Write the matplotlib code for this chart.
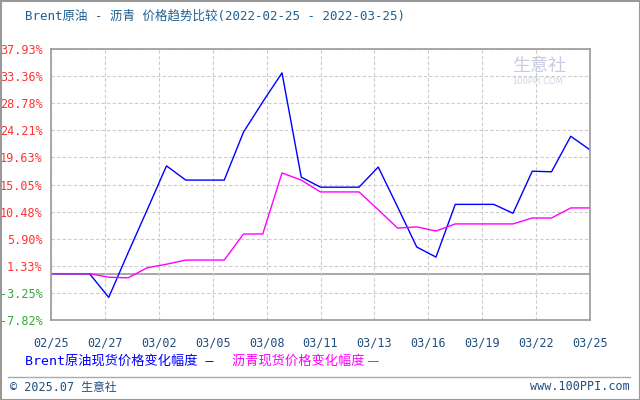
import matplotlib
matplotlib.use("Agg")
import matplotlib.pyplot as plt
import numpy as np

plt.rcParams['font.family'] = ['Noto Sans CJK SC', 'DejaVu Sans']

brent = [0, 0, 0, -4.0, 3.5, 10.8, 18.2, 15.8, 15.8, 15.8, 23.9, 29.0, 33.9, 16.3, 14.6,
         14.6, 14.6, 18.0, 11.3, 4.5, 2.8, 11.7, 11.7, 11.7, 10.2, 17.3, 17.2, 23.2, 20.9]
asphalt = [0, 0, 0, -0.6, -0.7, 1.0, 1.6, 2.3, 2.3, 2.3, 6.7, 6.7, 17.0, 15.8, 13.8,
           13.8, 13.8, 10.8, 7.7, 7.9, 7.2, 8.4, 8.4, 8.4, 8.4, 9.4, 9.4, 11.1, 11.1]
x_labels = ["02/25", "02/27", "03/02", "03/05", "03/08", "03/11",
            "03/13", "03/16", "03/19", "03/22", "03/25"]
y_ticks = [37.93, 33.36, 28.78, 24.21, 19.63, 15.05, 10.48, 5.90, 1.33, -3.25, -7.82]

fig = plt.figure(figsize=(6.4, 4.0), dpi=100)
ax = fig.add_axes([51 / 640, 80 / 400, 539 / 640, 271 / 400])

x = np.arange(len(brent))
ax.plot(x, brent, color="#0000ff", lw=1)
ax.plot(x, asphalt, color="#ff00ff", lw=1)
ax.axhline(0, color="#999999", lw=1.2, zorder=1)

n = len(brent) - 1
ax.set_xlim(0, n)
ax.set_ylim(y_ticks[-1], y_ticks[0])
ax.set_xticks(np.linspace(0, n, len(x_labels)))
ax.set_xticklabels(x_labels, color="#1f4f7f", fontsize=8.5, family="DejaVu Sans Mono")
ax.set_yticks(y_ticks)
ax.set_yticklabels([f"{v:.2f}%" for v in y_ticks], fontsize=8.5, family="DejaVu Sans Mono")
for lab, v in zip(ax.get_yticklabels(), y_ticks):
    lab.set_color("#ff3333" if v > 0 else "#33aa33")
ax.tick_params(length=0, pad=6)
ax.tick_params(axis="x", pad=12)
ax.grid(True, color="#cccccc", ls=(0, (3, 2)), lw=0.8)
for s in ax.spines.values():
    s.set_color("#999999")
    s.set_linewidth(1.2)

fig.text(25 / 640, 1 - 16 / 400, "Brent原油 - 沥青 价格趋势比较(2022-02-25 - 2022-03-25)",
         color="#1f5f8f", fontsize=9, va="center",
         family=["DejaVu Sans Mono", "Noto Sans CJK SC"])

# legend row
fig.text(25 / 640, 1 - 361 / 400, "Brent原油现货价格变化幅度 —", color="#0000ff",
         fontsize=9.5, va="center", family=["DejaVu Sans Mono", "Noto Sans CJK SC"])
fig.text(232 / 640, 1 - 361 / 400, "沥青现货价格变化幅度 —", color="#ff00ff",
         fontsize=9.5, va="center", family=["Noto Sans CJK SC", "DejaVu Sans"])

# watermark
fig.text(512 / 640, 1 - 66 / 400, "生意社", color="#c8cce0", fontsize=13, va="center")
fig.text(512 / 640, 1 - 81 / 400, "100PPI.COM", color="#d0d4e4", fontsize=6,
         va="center", family="DejaVu Sans")

# footer
fig.add_artist(plt.Line2D([8 / 640, 630 / 640], [1 - 377 / 400] * 2, color="#aaaaaa", lw=1))
fig.text(10 / 640, 1 - 387 / 400, "© 2025.07 生意社", color="#1f4f7f", fontsize=8.5,
         va="center", family=["DejaVu Sans Mono", "Noto Sans CJK SC"])
fig.text(630 / 640, 1 - 387 / 400, "www.100PPI.com", color="#1f4f7f", fontsize=8.5,
         va="center", ha="right", family="DejaVu Sans Mono")
fig.add_artist(plt.Rectangle((0.5 / 640, 0.5 / 400), 639 / 640, 399 / 400, fill=False,
                             ec="#999999", lw=1.5, transform=fig.transFigure))

fig.savefig("out.png", dpi=100)
